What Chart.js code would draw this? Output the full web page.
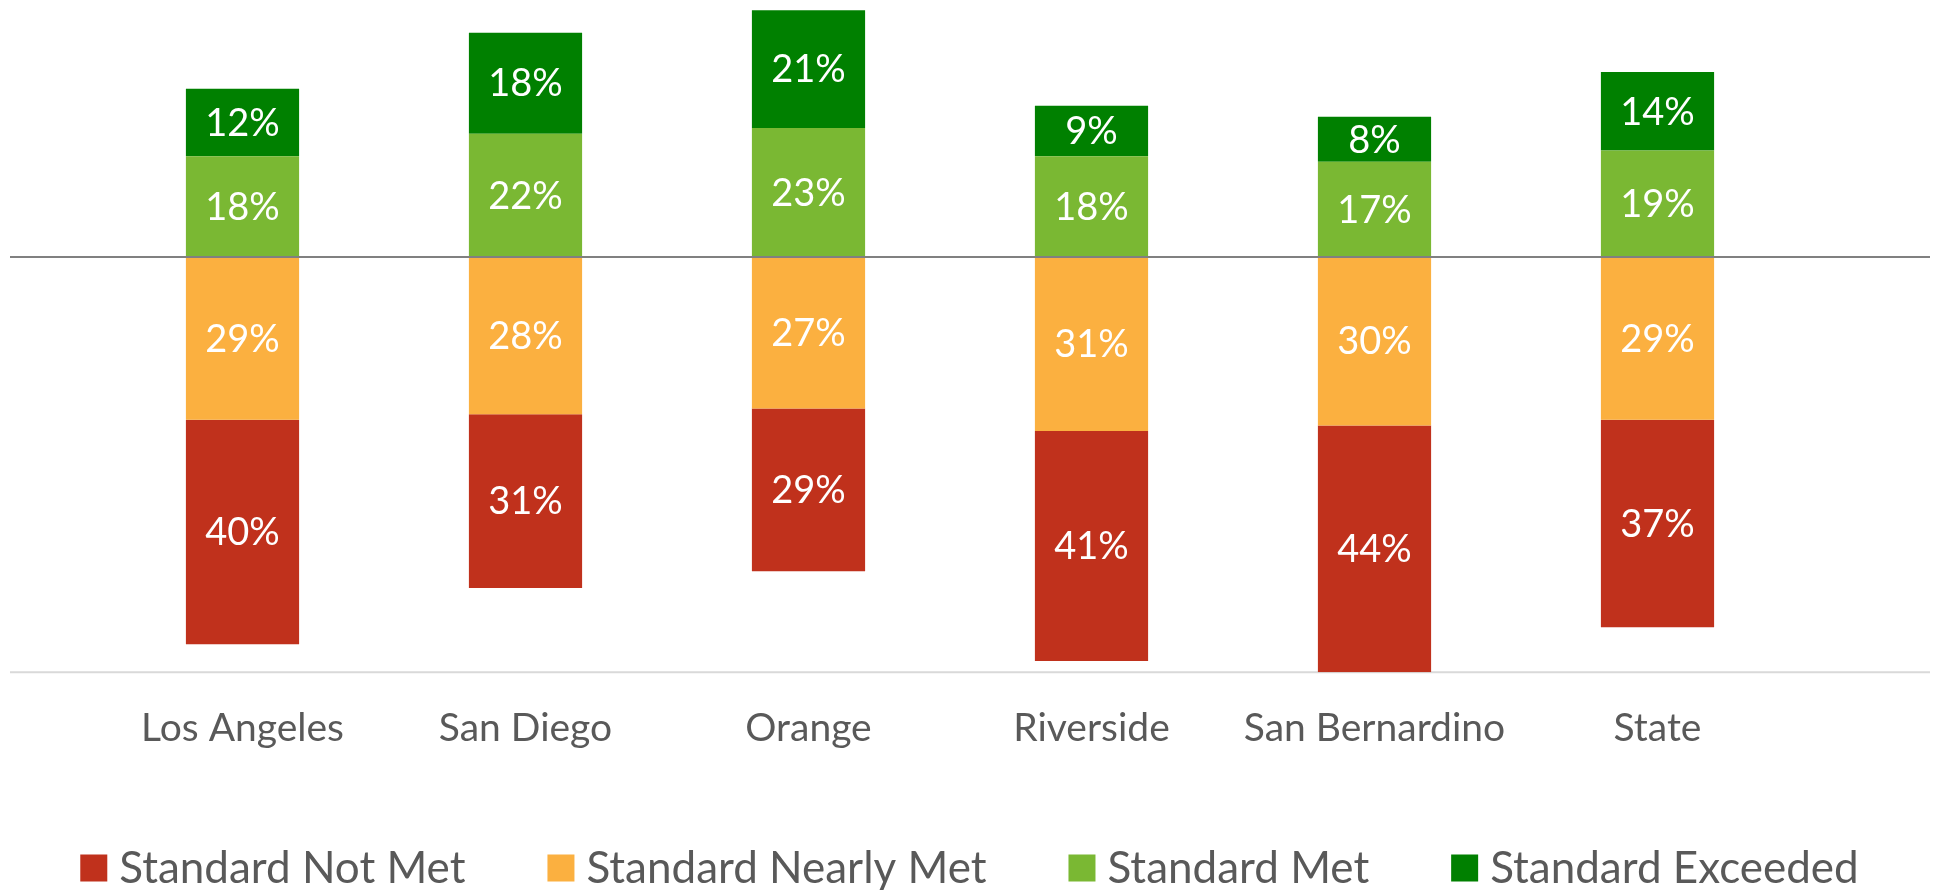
<!DOCTYPE html>
<html>
<head>
<meta charset="utf-8">
<script src="https://cdn.jsdelivr.net/npm/chart.js@4.4.0/dist/chart.umd.min.js"></script>
<style>
  html, body { margin: 0; padding: 0; background: #fff; }
</style>
</head>
<body>
<canvas id="scoresChart" width="1939" height="890"></canvas>
<script>
const counties = ["Los Angeles", "San Diego", "Orange", "Riverside", "San Bernardino", "State"];
const notMet = [40, 31, 29, 41, 44, 37];
const nearlyMet = [29, 28, 27, 31, 30, 29];
const met = [18, 22, 23, 18, 17, 19];
const exceeded = [12, 18, 21, 9, 8, 14];

const textColor = "#595959";
const fontFamily = "Lato, 'Open Sans', sans-serif";

// datasets are listed nearest-to-zero first so the stacks grow outwards;
// legendOrder puts them back in the reading order of the legend
const datasets = [
    { label: "Standard Nearly Met", data: nearlyMet.map(v => -v), backgroundColor: "#FBB040" },
    { label: "Standard Not Met", data: notMet.map(v => -v), backgroundColor: "#C0311C" },
    { label: "Standard Met", data: met, backgroundColor: "#7AB833" },
    { label: "Standard Exceeded", data: exceeded, backgroundColor: "#008000" }
];
const legendOrder = [1, 0, 2, 3];

const chartLines = {
    id: "chartLines",
    beforeDatasetsDraw(chart) {
        const { ctx, chartArea } = chart;
        ctx.save();
        ctx.strokeStyle = "#D9D9D9";
        ctx.lineWidth = 2;
        ctx.beginPath();
        ctx.moveTo(10, chartArea.bottom);
        ctx.lineTo(chart.width - 9, chartArea.bottom);
        ctx.stroke();
        ctx.restore();
    },
    afterDatasetsDraw(chart) {
        const ctx = chart.ctx;
        const y0 = chart.scales.y.getPixelForValue(0);
        ctx.save();
        ctx.strokeStyle = "#808080";
        ctx.lineWidth = 2;
        ctx.beginPath();
        ctx.moveTo(10, y0);
        ctx.lineTo(chart.width - 9, y0);
        ctx.stroke();

        // value labels in the middle of each segment
        ctx.fillStyle = "#FFFFFF";
        ctx.font = "38px " + fontFamily;
        ctx.textAlign = "center";
        ctx.textBaseline = "middle";
        chart.data.datasets.forEach((ds, i) => {
            chart.getDatasetMeta(i).data.forEach((bar, j) => {
                const { x, y, base } = bar.getProps(["x", "y", "base"], true);
                ctx.fillText(Math.abs(ds.data[j]) + "%", x, (y + base) / 2 + 1);
            });
        });
        ctx.restore();
    },
    afterDraw(chart) {
        const ctx = chart.ctx;
        const boxSize = 27, textGap = 12, itemGap = 82;
        ctx.save();
        ctx.font = "44px " + fontFamily;
        ctx.textBaseline = "middle";
        const items = legendOrder.map(i => chart.data.datasets[i]);
        const widths = items.map(d => boxSize + textGap + ctx.measureText(d.label).width);
        const total = widths.reduce((a, b) => a + b, 0) + itemGap * (items.length - 1);
        let x = (chart.width - total) / 2;
        const y = 868;
        items.forEach((d, i) => {
            ctx.fillStyle = d.backgroundColor;
            ctx.fillRect(x, y - boxSize / 2, boxSize, boxSize);
            ctx.fillStyle = textColor;
            ctx.fillText(d.label, x + boxSize + textGap, y + 1);
            x += widths[i] + itemGap;
        });
        ctx.restore();
    }
};

new Chart(document.getElementById("scoresChart"), {
    type: "bar",
    data: { labels: counties, datasets: datasets },
    options: {
        responsive: false,
        animation: false,
        devicePixelRatio: 1,
        categoryPercentage: 0.4,
        barPercentage: 1,
        layout: { padding: { left: 101, right: 140, top: 3, bottom: 105 } },
        scales: {
            x: {
                stacked: true,
                grid: { display: false, drawTicks: false },
                border: { display: false },
                ticks: {
                    color: textColor,
                    font: { family: fontFamily, size: 39 },
                    padding: 33,
                    maxRotation: 0,
                    autoSkip: false
                }
            },
            y: {
                stacked: true,
                display: false,
                min: -74,
                max: 45.3
            }
        },
        plugins: {
            legend: { display: false },
            tooltip: { enabled: false }
        }
    },
    plugins: [chartLines]
});
</script>
</body>
</html>
